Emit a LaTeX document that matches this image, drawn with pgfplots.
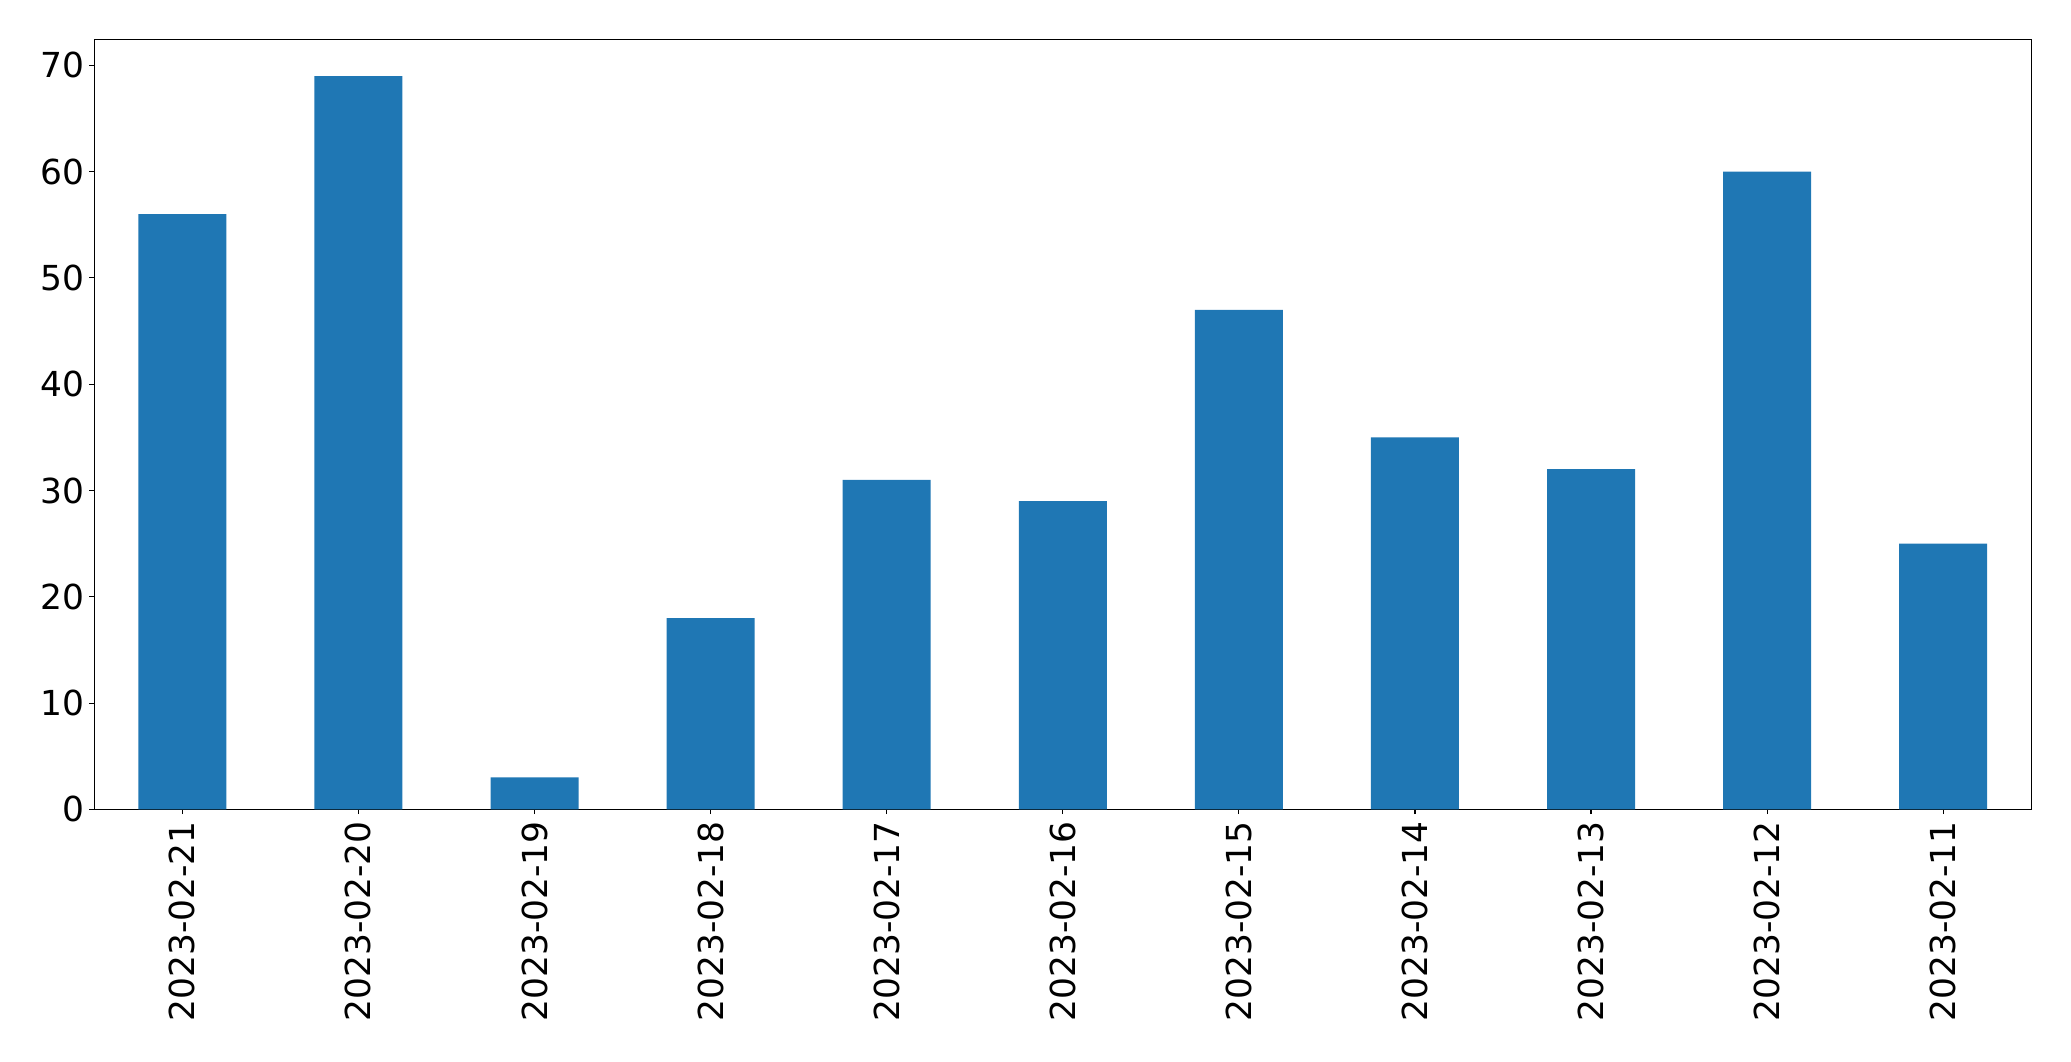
\documentclass[border=0pt]{standalone}
\usepackage{fontspec}
\setmainfont{DejaVu Sans}
\usepackage{pgfplots}
\pgfplotsset{compat=1.18}
\definecolor{mplblue}{HTML}{1F77B4}
\begin{document}
\begin{tikzpicture}
\path[use as bounding box] (0,0) rectangle (1491.12pt,763.92pt);
\begin{axis}[
  at={(67.9pt,181.2pt)}, anchor=south west,
  scale only axis, width=1394.6pt, height=554.4pt,
  xmin=-0.5, xmax=10.5, ymin=0, ymax=72.45,
  xtick={0,1,...,10},
  xticklabels={2023-02-21,2023-02-20,2023-02-19,2023-02-18,2023-02-17,2023-02-16,2023-02-15,2023-02-14,2023-02-13,2023-02-12,2023-02-11},
  ytick={0,10,...,70},
  yticklabels={0,10,20,30,40,50,60,70},
  tick align=outside, major tick length=3.5pt,
  tick style={line width=0.8pt, black},
  axis line style={line width=0.8pt},
  xtick pos=bottom, ytick pos=left,
  ticklabel style={font=\fontsize{24.8}{29}\selectfont},
  xticklabel style={rotate=90, anchor=east, inner sep=5pt},
  yticklabel style={inner sep=3.5pt},
]
\addplot[ybar, bar width=0.5, fill=mplblue, draw=none] coordinates {
(0,56) (1,69) (2,3) (3,18) (4,31) (5,29) (6,47) (7,35) (8,32) (9,60) (10,25)
};
\end{axis}
\end{tikzpicture}
\end{document}
